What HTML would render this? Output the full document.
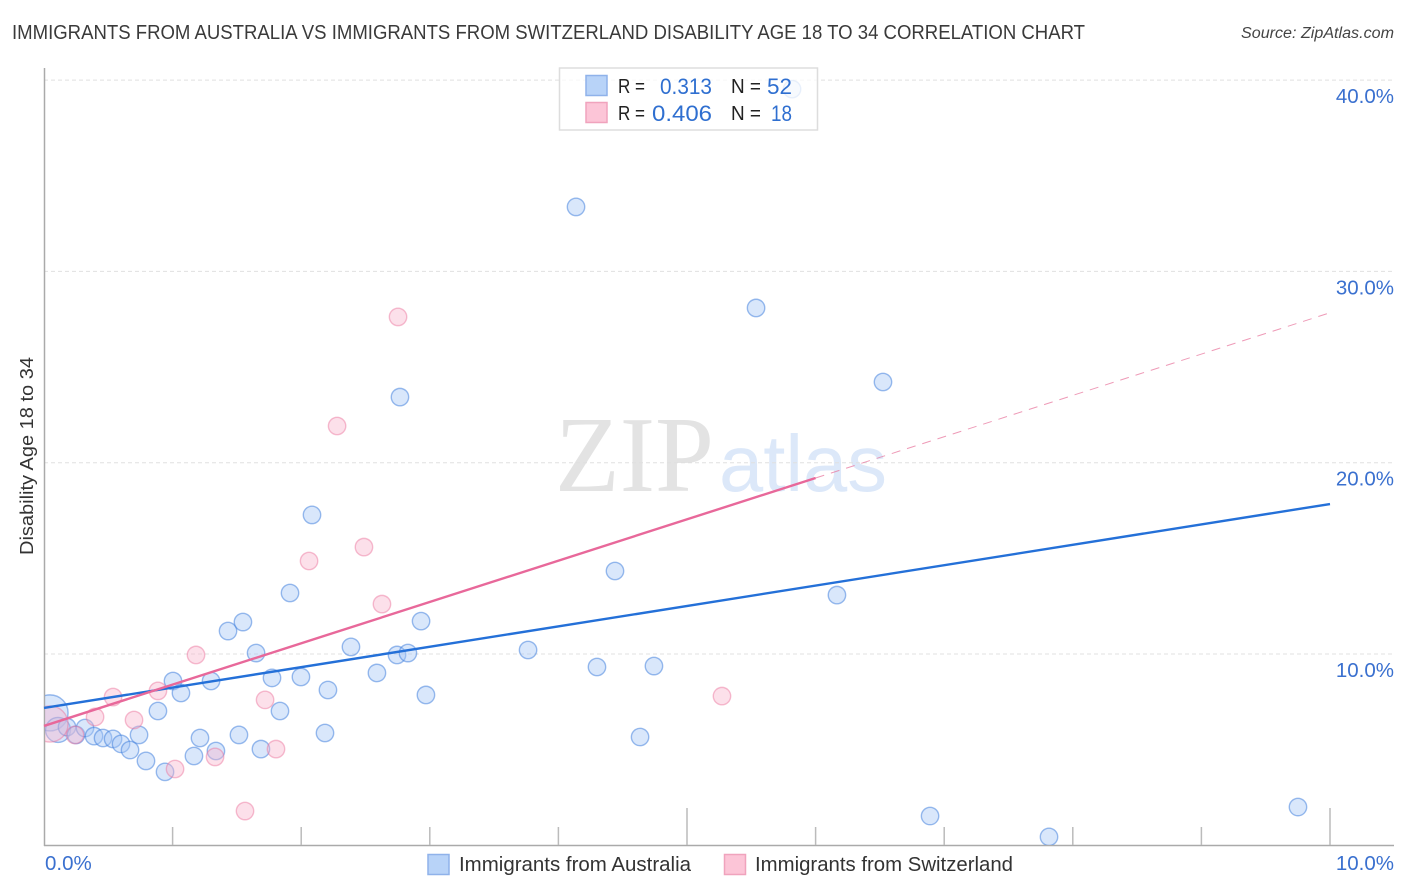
<!DOCTYPE html>
<html lang="en">
<head>
<meta charset="utf-8">
<title>Immigrants from Australia vs Immigrants from Switzerland Disability Age 18 to 34 Correlation Chart</title>
<style>
html,body{margin:0;padding:0;background:#fff;}
svg{display:block;font-family:"Liberation Sans",sans-serif;}
</style>
</head>
<body>
<svg id="chart" xmlns="http://www.w3.org/2000/svg" width="1406" height="892" viewBox="0 0 1406 892">
  <defs><clipPath id="plot-clip"><rect x="45" y="60" width="1350" height="785"/></clipPath></defs>
  <text x="12" y="39" font-size="20" fill="#3a3a3a" textLength="1073" lengthAdjust="spacingAndGlyphs">IMMIGRANTS FROM AUSTRALIA VS IMMIGRANTS FROM SWITZERLAND DISABILITY AGE 18 TO 34 CORRELATION CHART</text>
  <text x="1241" y="38" font-size="15.5" font-style="italic" fill="#444" textLength="153" lengthAdjust="spacingAndGlyphs">Source: ZipAtlas.com</text>
  <text x="555" y="491" font-family="'Liberation Serif',serif" font-size="108" fill="#e3e3e3" textLength="159" lengthAdjust="spacingAndGlyphs">ZIP</text>
  <text x="719" y="491" font-size="80" fill="#dce8f9" textLength="168" lengthAdjust="spacingAndGlyphs">atlas</text>
  <g id="grid"></g>
  <g id="axes"></g>
  <g id="points" clip-path="url(#plot-clip)"></g>
  <g id="trends"></g>
  <text transform="translate(33 456) rotate(-90)" font-size="18.5" fill="#333" text-anchor="middle" textLength="198" lengthAdjust="spacingAndGlyphs">Disability Age 18 to 34</text>
  <g id="tick-labels"></g>
  <g>
    <rect x="559.5" y="68" width="258" height="62" fill="#fff" fill-opacity="0.78" stroke="#ddd" stroke-width="1.5"/>
    <rect x="586" y="75.500" width="21" height="20" fill="#b8d3f8" stroke="#8fb2ea" stroke-width="1.500"/>
    <rect x="586" y="102.500" width="21" height="20" fill="#fcc5d7" stroke="#f0a3bd" stroke-width="1.500"/>
    <g font-size="20" fill="#222">
      <text x="618" y="93" textLength="27" lengthAdjust="spacingAndGlyphs">R =</text>
      <text x="731" y="93" textLength="30" lengthAdjust="spacingAndGlyphs">N =</text>
      <text x="618" y="120" textLength="27" lengthAdjust="spacingAndGlyphs">R =</text>
      <text x="731" y="120" textLength="30" lengthAdjust="spacingAndGlyphs">N =</text>
    </g>
    <g font-size="22" fill="#2f6fd0">
      <text x="660" y="94" textLength="52" lengthAdjust="spacingAndGlyphs">0.313</text>
      <text x="767" y="94" textLength="25" lengthAdjust="spacingAndGlyphs">52</text>
      <text x="652" y="121" textLength="60" lengthAdjust="spacingAndGlyphs">0.406</text>
      <text x="771" y="121" textLength="21" lengthAdjust="spacingAndGlyphs">18</text>
    </g>
  </g>
  <g>
    <rect x="428" y="854.500" width="21" height="20" fill="#b8d3f8" stroke="#8fb2ea" stroke-width="1.500"/>
    <text x="459" y="871" font-size="20" fill="#333" textLength="232" lengthAdjust="spacingAndGlyphs">Immigrants from Australia</text>
    <rect x="724.500" y="854.500" width="21" height="20" fill="#fcc5d7" stroke="#f0a3bd" stroke-width="1.500"/>
    <text x="755" y="871" font-size="20" fill="#333" textLength="258" lengthAdjust="spacingAndGlyphs">Immigrants from Switzerland</text>
  </g>
</svg>
<script>
const australiaX = [0.047,0.109,0.179,0.249,0.319,0.389,0.459,0.537,0.599,0.669,0.739,0.793,0.941,0.886,1.003,1.065,1.166,1.213,1.299,1.337,1.431,1.516,1.547,1.649,1.687,1.773,1.835,1.913,1.998,2.084,2.185,2.208,2.387,2.589,2.745,2.768,2.830,2.932,2.970,3.764,4.137,4.300,4.440,4.635,4.743,5.537,5.817,6.166,6.524,6.890,7.815,9.751];
const australiaY = [6.92,6.03,6.18,5.77,6.13,5.71,5.61,5.56,5.30,4.98,5.77,4.41,3.84,7.02,8.59,7.96,4.67,5.61,8.59,4.93,11.20,5.77,11.67,10.05,5.03,8.75,7.02,13.19,8.80,17.27,5.87,8.12,10.37,9.01,9.95,23.43,10.05,11.72,7.86,10.21,33.37,9.32,14.34,5.66,9.37,28.09,39.53,13.08,24.22,1.53,0.44,2.00];
const australiaWeight = [4.3,2.06,1,1,1,1,1,1,1,1,1,1,1,1,1,1,1,1,1,1,1,1,1,1,1,1,1,1,1,1,1,1,1,1,1,1,1,1,1,1,1,1,1,1,1,1,1,1,1,1,1,1];
const switzerlandX = [0.047,0.241,0.397,0.537,0.700,0.886,1.019,1.182,1.330,1.563,1.719,1.804,2.061,2.279,2.488,2.628,2.753,5.272];
const switzerlandY = [6.34,5.77,6.71,7.75,6.55,8.07,3.99,9.95,4.62,1.79,7.60,5.03,14.86,21.92,15.59,12.61,27.62,7.80];
const switzerlandWeight = [4.3,1,1,1,1,1,1,1,1,1,1,1,1,1,1,1,1,1];
const australiaTrendX = [0,10];
const australiaTrendY = [7.18,17.84];
const switzerlandTrendX = [0,6];
const switzerlandTrendY = [6.24,19.2];
const switzerlandProjectionX = [6,10.02];
const switzerlandProjectionY = [19.2,27.88];
const yTickValues = [10,20,30,40];
const yTickLabels = ["10.0%","20.0%","30.0%","40.0%"];
const xTickValues = [0,1,2,3,4,5,6,7,8,9,10];
const xMajorTicks = [5,10];
const xEndValues = [0,10];
const xEndLabels = ["0.0%","10.0%"];

const NS = "http://www.w3.org/2000/svg";
function xScale(v){ return 44 + v * 128.6; }
function yScale(v){ return 845.3 - v * 19.13; }
function rScale(w){ return 8.7 * Math.sqrt(w); }
function make(tag, attrs, parent){
  const el = document.createElementNS(NS, tag);
  for (const k in attrs) el.setAttribute(k, attrs[k]);
  parent.appendChild(el);
  return el;
}
const grid = document.getElementById("grid");
const axes = document.getElementById("axes");
const pointsG = document.getElementById("points");
const trends = document.getElementById("trends");
const labels = document.getElementById("tick-labels");

yTickValues.forEach(function(v, i){
  const line = make("line", {x1:44, x2:1394, y1:yScale(v), y2:yScale(v), stroke:"#e0e0e0", "stroke-width":1, "stroke-dasharray":"4 3"}, grid);
  
  
  const t = make("text", {x:1394, y:yScale(v) + 23, "font-size":20.5, fill:"#3a70cf", "text-anchor":"end"}, labels);
  
  
  t.textContent = yTickLabels[i];
});

const yAxisLine = make("line", {x1:44.5, x2:44.5, y1:68, y2:846, stroke:"#aaa", "stroke-width":1.5}, axes);


const xAxisLine = make("line", {x1:44, x2:1394, y1:845.5, y2:845.5, stroke:"#aaa", "stroke-width":1.5}, axes);



xTickValues.forEach(function(v){
  if (v === 0) return;
  const top = xMajorTicks.indexOf(v) >= 0 ? 808 : 827;
  const tick = make("line", {x1:xScale(v), x2:xScale(v), y1:top, y2:845, stroke:"#bbb", "stroke-width":1.5}, axes);
  
  
});

xEndValues.forEach(function(v, i){
  const t = make("text", {x: i === 0 ? xScale(v) + 1 : 1394, y:870, "font-size":20.5, fill:"#3a70cf", "text-anchor": i === 0 ? "start" : "end"}, labels);
  
  
  t.textContent = xEndLabels[i];
});

australiaX.forEach(function(v, i){
  const c = make("circle", {cx:xScale(v), cy:yScale(australiaY[i]), r:rScale(australiaWeight[i]), fill:"#a4c6f5", "fill-opacity":0.42, stroke:"#3f7fdc", "stroke-opacity":0.52, "stroke-width":1.4}, pointsG);
  
  
});
switzerlandX.forEach(function(v, i){
  const c = make("circle", {cx:xScale(v), cy:yScale(switzerlandY[i]), r:rScale(switzerlandWeight[i]), fill:"#f9b6cc", "fill-opacity":0.42, stroke:"#ea6f9a", "stroke-opacity":0.45, "stroke-width":1.4}, pointsG);
  
  
});

const trendAustralia = make("line", {x1:xScale(australiaTrendX[0]), y1:yScale(australiaTrendY[0]), x2:xScale(australiaTrendX[1]), y2:yScale(australiaTrendY[1]), stroke:"#2470d8", "stroke-width":2.4}, trends);


const trendSwitzerland = make("line", {x1:xScale(switzerlandTrendX[0]), y1:yScale(switzerlandTrendY[0]), x2:xScale(switzerlandTrendX[1]), y2:yScale(switzerlandTrendY[1]), stroke:"#e8689a", "stroke-width":2.4}, trends);


const projection = make("line", {x1:xScale(switzerlandProjectionX[0]), y1:yScale(switzerlandProjectionY[0]), x2:xScale(switzerlandProjectionX[1]), y2:yScale(switzerlandProjectionY[1]), stroke:"#e8789f", "stroke-opacity":0.75, "stroke-width":1, "stroke-dasharray":"9 7"}, trends);


</script>
</body>
</html>
